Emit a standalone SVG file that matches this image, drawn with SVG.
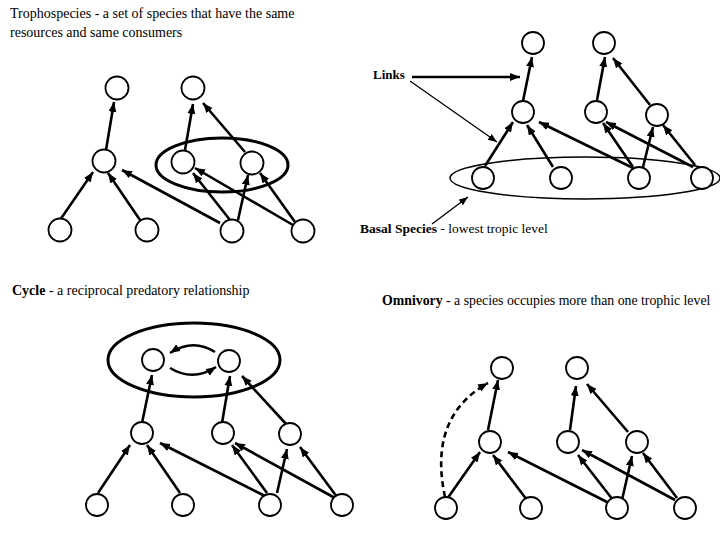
<svg xmlns="http://www.w3.org/2000/svg" width="720" height="540" viewBox="0 0 720 540">
<style>
.t{font-family:"Liberation Serif","Times New Roman",serif;font-size:13px;fill:#000}
.b{font-weight:bold}
.n{fill:#fff;stroke:#000;stroke-width:1.8}
.e{stroke:#000;stroke-width:2.6;fill:none;marker-end:url(#ah)}
.thin{stroke:#000;stroke-width:1.3;fill:none;marker-end:url(#ahs)}
.dash{stroke:#000;stroke-width:2.6;fill:none;stroke-dasharray:6 4;marker-end:url(#ah)}
.ring{fill:none;stroke:#000;stroke-width:3}
.ring2{fill:none;stroke:#000;stroke-width:1.5}
</style>
<defs>
<marker id="ah" markerUnits="userSpaceOnUse" markerWidth="12" markerHeight="10" refX="10" refY="4" orient="auto">
<path d="M0,0 L10,4 L0,8 Z" fill="#000"/>
</marker>
<marker id="ahs" markerUnits="userSpaceOnUse" markerWidth="12" markerHeight="10" refX="9" refY="3.5" orient="auto">
<path d="M0,0 L9,3.5 L0,7 Z" fill="#000"/>
</marker>
</defs>
<rect width="720" height="540" fill="#fff"/>

<g id="labels">
<text class="t" x="10" y="18" style="font-size:14px">Trophospecies - a set of species that have the same</text>
<text class="t" x="10" y="37" style="font-size:14px">resources and same consumers</text>
<text class="t b" x="373" y="79">Links</text>
<text class="t" x="360" y="233" style="font-size:13.5px"><tspan class="b">Basal Species</tspan> - lowest tropic level</text>
<text class="t" x="12" y="295" style="font-size:14px"><tspan class="b">Cycle</tspan> - a reciprocal predatory relationship</text>
<text class="t" x="382" y="305" style="font-size:13.8px"><tspan class="b">Omnivory</tspan> - a species occupies more than one trophic level</text>
</g>

<g id="groupings">
<ellipse class="ring" cx="222" cy="165" rx="66" ry="27"/>
<ellipse class="ring2" cx="585" cy="178" rx="135" ry="21"/>
<ellipse class="ring" cx="194" cy="360" rx="86" ry="37"/>
</g>

<g id="connectors">
<line class="e" x1="106" y1="150" x2="114" y2="102"/>
<line class="e" x1="60" y1="220" x2="93" y2="172"/>
<line class="e" x1="140" y1="220" x2="108" y2="173"/>
<line class="e" x1="220" y1="223" x2="122" y2="170"/>
<line class="e" x1="185" y1="150" x2="193" y2="104"/>
<line class="e" x1="245" y1="152" x2="203" y2="103"/>
<line class="e" x1="230" y1="220" x2="193" y2="173"/>
<line class="e" x1="238" y1="220" x2="248" y2="175"/>
<line class="e" x1="293" y1="225" x2="195" y2="168"/>
<line class="e" x1="295" y1="222" x2="260" y2="173"/>
<line class="e" x1="523" y1="101" x2="532" y2="57"/>
<line class="e" x1="485" y1="166" x2="513" y2="122"/>
<line class="e" x1="553" y1="167" x2="527" y2="125"/>
<line class="e" x1="633" y1="168" x2="539" y2="122"/>
<line class="e" x1="597" y1="100" x2="605" y2="57"/>
<line class="e" x1="650" y1="105" x2="613" y2="58"/>
<line class="e" x1="633" y1="167" x2="603" y2="123"/>
<line class="e" x1="643" y1="167" x2="653" y2="127"/>
<line class="e" x1="693" y1="167" x2="606" y2="122"/>
<line class="e" x1="695" y1="165" x2="663" y2="125"/>
<line class="e" x1="412" y1="77" x2="520" y2="77"/>
<line class="thin" x1="410" y1="81" x2="497" y2="142"/>
<line class="thin" x1="432" y1="224" x2="468" y2="197"/>
<path class="e" d="M215,352 Q193,338 170,353"/>
<path class="e" d="M170,368 Q193,382 216,367"/>
<line class="e" x1="142" y1="423" x2="152" y2="375"/>
<line class="e" x1="222" y1="423" x2="230" y2="376"/>
<line class="e" x1="287" y1="425" x2="242" y2="376"/>
<line class="e" x1="98" y1="493" x2="130" y2="445"/>
<line class="e" x1="180" y1="493" x2="147" y2="445"/>
<line class="e" x1="267" y1="497" x2="160" y2="443"/>
<line class="e" x1="267" y1="493" x2="232" y2="445"/>
<line class="e" x1="277" y1="493" x2="287" y2="449"/>
<line class="e" x1="335" y1="498" x2="235" y2="443"/>
<line class="e" x1="337" y1="497" x2="300" y2="447"/>
<path class="dash" d="M445,497 C436,455 440,410 488,383"/>
<line class="e" x1="488" y1="430" x2="498" y2="380"/>
<line class="e" x1="447" y1="499" x2="480" y2="452"/>
<line class="e" x1="527" y1="500" x2="493" y2="455"/>
<line class="e" x1="607" y1="502" x2="508" y2="452"/>
<line class="e" x1="570" y1="430" x2="576" y2="386"/>
<line class="e" x1="628" y1="432" x2="587" y2="384"/>
<line class="e" x1="613" y1="500" x2="578" y2="455"/>
<line class="e" x1="622" y1="500" x2="632" y2="456"/>
<line class="e" x1="675" y1="500" x2="582" y2="450"/>
<line class="e" x1="677" y1="498" x2="643" y2="453"/>
</g>

<g id="q1-nodes">
<circle id="q1-top1" class="n" cx="117" cy="88" r="11.5"/>
<circle id="q1-top2" class="n" cx="193" cy="88" r="11.5"/>
<circle id="q1-mid1" class="n" cx="104" cy="161" r="11.5"/>
<circle id="q1-mid2" class="n" cx="183" cy="162" r="11.5"/>
<circle id="q1-mid3" class="n" cx="252" cy="163" r="11.5"/>
<circle id="q1-bot1" class="n" cx="60" cy="230" r="11.5"/>
<circle id="q1-bot2" class="n" cx="147" cy="230" r="11.5"/>
<circle id="q1-bot3" class="n" cx="232" cy="231" r="11.5"/>
<circle id="q1-bot4" class="n" cx="303" cy="231" r="11.5"/>
</g>
<g id="q2-nodes">
<circle id="q2-top1" class="n" cx="533" cy="43" r="11"/>
<circle id="q2-top2" class="n" cx="604" cy="43" r="11"/>
<circle id="q2-mid1" class="n" cx="523" cy="112" r="11"/>
<circle id="q2-mid2" class="n" cx="596" cy="112" r="11"/>
<circle id="q2-mid3" class="n" cx="657" cy="115" r="11"/>
<circle id="q2-bot1" class="n" cx="483" cy="178" r="11"/>
<circle id="q2-bot2" class="n" cx="561" cy="178" r="11"/>
<circle id="q2-bot3" class="n" cx="639" cy="178" r="11"/>
<circle id="q2-bot4" class="n" cx="702" cy="178" r="11"/>
</g>
<g id="q3-nodes">
<circle id="q3-top1" class="n" cx="153" cy="360" r="11"/>
<circle id="q3-top2" class="n" cx="229" cy="361" r="11"/>
<circle id="q3-mid1" class="n" cx="142" cy="433" r="11"/>
<circle id="q3-mid2" class="n" cx="223" cy="433" r="11"/>
<circle id="q3-mid3" class="n" cx="290" cy="434" r="11"/>
<circle id="q3-bot1" class="n" cx="97" cy="505" r="11"/>
<circle id="q3-bot2" class="n" cx="183" cy="505" r="11"/>
<circle id="q3-bot3" class="n" cx="270" cy="505" r="11"/>
<circle id="q3-bot4" class="n" cx="342" cy="505" r="11"/>
</g>
<g id="q4-nodes">
<circle id="q4-top1" class="n" cx="502" cy="368" r="11"/>
<circle id="q4-top2" class="n" cx="577" cy="368" r="11"/>
<circle id="q4-mid1" class="n" cx="490" cy="442" r="11"/>
<circle id="q4-mid2" class="n" cx="568" cy="442" r="11"/>
<circle id="q4-mid3" class="n" cx="637" cy="442" r="11"/>
<circle id="q4-bot1" class="n" cx="446" cy="508" r="11"/>
<circle id="q4-bot2" class="n" cx="531" cy="508" r="11"/>
<circle id="q4-bot3" class="n" cx="617" cy="508" r="11"/>
<circle id="q4-bot4" class="n" cx="685" cy="508" r="11"/>
</g>
</svg>
